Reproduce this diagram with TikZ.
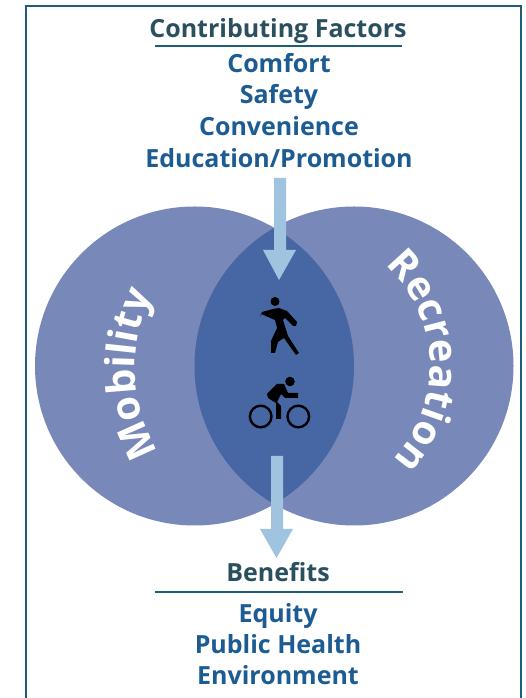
\documentclass[tikz,border=0pt]{standalone}
\usepackage{fontspec}
\setmainfont{Open Sans}
\usetikzlibrary{decorations.text}
\definecolor{frameC}{HTML}{1F5C78}
\definecolor{headC}{HTML}{2A5060}
\definecolor{itemC}{HTML}{1C5C92}
\definecolor{circC}{HTML}{7788B9}
\definecolor{lensC}{HTML}{4667A4}
\definecolor{arrC}{HTML}{A0C4E0}
\tikzset{
  x=1pt,y=1pt,
  head/.style={font=\fontsize{25}{25}\selectfont\bfseries,text=headC,anchor=base,inner sep=0pt},
  item/.style={font=\fontsize{25}{25}\selectfont\bfseries,text=itemC,anchor=base,inner sep=0pt},
  rulel/.style={draw=frameC,line width=1.2pt},
  blockarrow/.style={fill=arrC,draw=none},
  icon/.style={fill=black,draw=none}
}
\begin{document}
\begin{tikzpicture}
\useasboundingbox (0,0) rectangle (525,698);
\fill[white] (0,0) rectangle (525,698);
% frame
\draw[frameC,line width=2pt] (25.5,-2) -- (25.5,692) -- (520.5,692) -- (520.5,-2);
% circles
\fill[circC] (194.5,332) circle (159.5);
\fill[circC] (354,332) circle (159.5);
\begin{scope}
\clip (194.5,332) circle (159.5);
\fill[lensC] (354,332) circle (159.5);
\end{scope}
% arrows
\fill[blockarrow] (274,520) -- (286,520) -- (286,448) -- (296,448) -- (279,418) -- (263,448) -- (274,448) -- cycle;
\fill[blockarrow] (271,242) -- (283,242) -- (283,169) -- (293,169) -- (276.5,140) -- (260,169) -- (271,169) -- cycle;
% texts
\node[head] (cf) at (278,660) {Contributing Factors};
\draw[rulel] (155,652) -- (402,652);
\node[item] (c1) at (279,625) {Comfort};
\node[item] (c2) at (279,594) {Safety};
\node[item] (c3) at (279,562) {Convenience};
\node[item] (c4) at (279,530) {Education/Promotion};
\node[head] (bf) at (278,116) {Benefits};
\draw[rulel] (155,106) -- (403,106);
\node[item] (b1) at (278,75) {Equity};
\node[item] (b2) at (278,44) {Public Health};
\node[item] (b3) at (278,13) {Environment};
% curved labels
\path[postaction={decorate,decoration={text along path,text align=left,
  text={|\fontsize{40}{40}\selectfont\bfseries\color{white}|Mobility}}}]
  (300,330) ++(210.7:165) arc[start angle=210.7,end angle=145,radius=165];
\path[postaction={decorate,decoration={text along path,text align=left,
  text={|\fontsize{40}{40}\selectfont\bfseries\color{white}|Recreation}}}]
  (294,332) ++(48:136) arc[start angle=48,end angle=-50,radius=136];
% pedestrian
\fill[icon] (275,396.5) circle (4.5);
\fill[icon] (273,389) -- (279,390) -- (287,387) -- (297,376) -- (296,372) -- (293,372) -- (285,380) -- (283,378) -- (288,362) -- (299,345) -- (296,343) -- (284,360) -- (278,356) -- (275,345) -- (271,345) -- (271,357) -- (277,370) -- (275,378) -- (261,384) -- (260,381) -- (262,386) -- cycle;
% bicycle
\draw[black,line width=2.4pt] (260.7,281.5) circle (10.8);
\draw[black,line width=2.4pt] (298.3,281.5) circle (10.8);
\fill[icon] (290,316.5) circle (4.8);
\fill[icon] (277,314) -- (284,314) -- (288,305) -- (298,305) -- (298,300) -- (285,300) -- (281,304) -- (277,296) -- (281,292) -- (281,279) -- (276,279) -- (276,295) -- (268,300) -- (267,304) -- cycle;
\end{tikzpicture}
\end{document}
